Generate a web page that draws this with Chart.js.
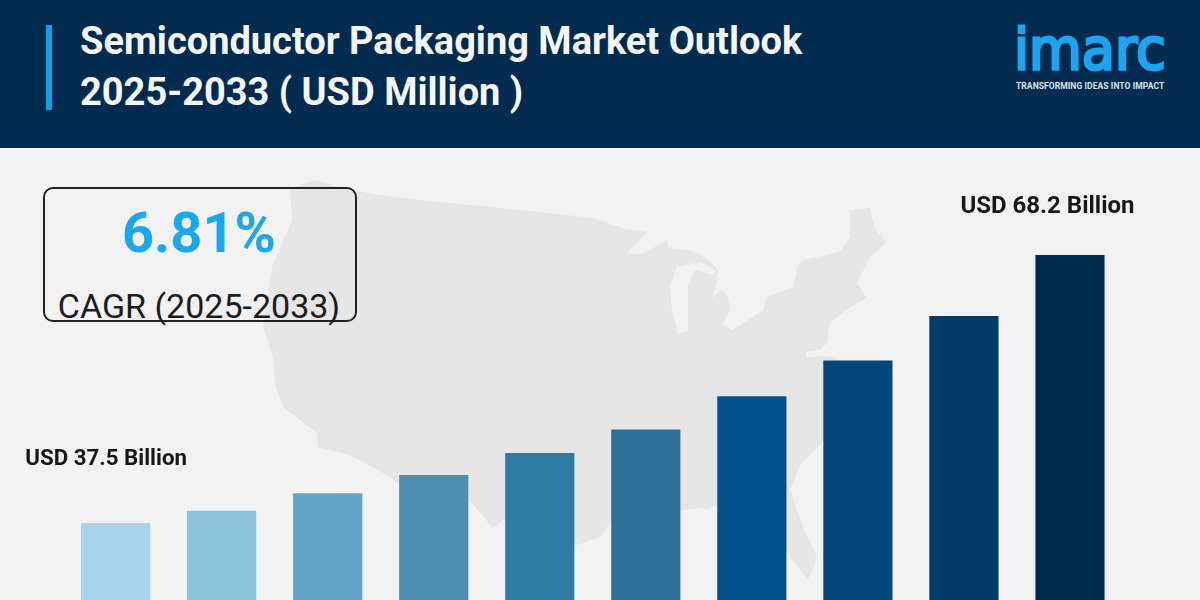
<!DOCTYPE html>
<html>
<head>
<meta charset="utf-8">
<title>Semiconductor Packaging Market Outlook</title>
<script src="https://cdn.jsdelivr.net/npm/chart.js@4/dist/chart.umd.min.js"></script>
<style>
  html, body { margin: 0; padding: 0; }
  body { width: 1200px; height: 600px; position: relative; overflow: hidden; background: #f2f2f3; font-family: Roboto, sans-serif; }
  #map { position: absolute; left: 0; top: 0; }
  #chart { position: absolute; left: 0; top: 0; }
  .header { position: absolute; left: 0; top: 0; width: 1200px; height: 148px; background: #022b4f; }
  .accent { position: absolute; left: 46px; top: 25px; width: 6px; height: 85px; background: #129fea; }
  .title { position: absolute; left: 80px; top: 16px; font-size: 38px; line-height: 51px; font-weight: 700; color: #f4f7fa; white-space: nowrap; }
  .logo { position: absolute; left: 1014px; top: 9px; font-family: "DejaVu Sans", sans-serif; font-size: 57px; line-height: 80px; color: #1ea4ee; -webkit-text-stroke: 3px #1ea4ee; transform: scaleX(0.95); transform-origin: left top; }
  .tagline { position: absolute; left: 1016px; top: 81px; font-size: 8.5px; line-height: 10px; font-weight: 700; letter-spacing: 0.08px; color: #d8e4ee; white-space: nowrap; }
  .cagr-box { position: absolute; left: 43px; top: 187px; width: 310px; height: 131px; border: 2px solid #222; border-radius: 10px; }
  .cagr-value { position: absolute; left: 44px; width: 310px; top: 203px; text-align: center; font-size: 56px; line-height: 60px; font-weight: 700; color: #1aa7ee; }
  .cagr-label { position: absolute; left: 44px; width: 310px; top: 286px; text-align: center; font-size: 34px; line-height: 40px; color: #1c1c1c; }
</style>
</head>
<body>
<!-- background map -->
<svg id="map" width="1200" height="600">
  <path fill="#e6e6e6" d="M315 180 L350 190 L400 198 L500 208 L593 218 L625 229 L647 232 L627 253 L640 255 L667 240 L668 248 L690 250 L707 258 L718 270 L717 283 L712 298 L722 290 L728 297 L730 310 L722 325 L733 330 L763 310 L767 297 L793 287 L797 267 L803 260 L840 252 L850 237 L850 210 L870 208 L875 230 L887 242 L870 257 L857 283 L867 298 L850 307 L830 323 L827 343 L820 350 L806 352 L806 358 L820 356 L835 357 L845 400 L825 440 L800 465 L790 490 L803 527 L817 557 L808 580 L790 557 L780 530 L760 505 L717 505 L708 510 L700 508 L683 510 L610 523 L600 537 L578 545 L507 517 L493 528 L467 497 L398 484 L390 477 L350 455 L318 447 L317 433 L283 407 L275 383 L273 357 L263 327 L272 267 L292 220 L290 188 Z"/>
  <path fill="#f2f2f3" d="M670 285 L677 267 L700 262 L716 270 L712 275 L695 270 L688 285 L688 330 L678 334 L672 310 Z"/>
</svg>

<div class="header"></div>
<div class="accent"></div>
<div class="title">Semiconductor Packaging Market Outlook<br>2025-2033 ( USD Million )</div>
<div class="logo">imarc</div>
<div class="tagline">TRANSFORMING IDEAS INTO IMPACT</div>

<div class="cagr-box"></div>
<div class="cagr-value">6.81%</div>
<div class="cagr-label">CAGR (2025-2033)</div>

<canvas id="chart" width="1200" height="600"></canvas>

<script>
// Market size in USD billion
const categories = ["2024", "2025", "2026", "2027", "2028", "2029", "2030", "2031", "2032", "2033"];
const marketValues = [37.5, 38.9, 40.9, 43.0, 45.5, 48.2, 52.0, 56.1, 61.2, 68.2];
const barColors = ["#a9d5e8", "#8bc1d9", "#62a4c3", "#4e8fb1", "#2e7ca5", "#2c6f99", "#03508a", "#03477b", "#023a66", "#022b4e"];
const firstLabel = "USD 37.5 Billion";
const lastLabel = "USD 68.2 Billion";

// Only the first and last bars carry a label, set up and to the left of the bar
const valueLabels = {
  id: "valueLabels",
  afterDatasetsDraw(chart) {
    const bars = chart.getDatasetMeta(0).data;
    const last = bars[bars.length - 1];
    const ctx = chart.ctx;
    ctx.save();
    ctx.fillStyle = "#171717";
    ctx.textAlign = "center";
    ctx.textBaseline = "middle";
    ctx.font = "700 22.3px Roboto";
    ctx.fillText(firstLabel, bars[0].x - 9.5, bars[0].y - 64);
    ctx.font = "700 24px Roboto";
    ctx.fillText(lastLabel, last.x - 22.5, last.y - 48);
    ctx.restore();
  },
};

const ctx = document.getElementById("chart").getContext("2d");

new Chart(ctx, {
  type: "bar",
  data: {
    labels: categories,
    datasets: [
      {
        label: "Semiconductor Packaging Market",
        data: marketValues,
        backgroundColor: barColors,
        borderWidth: 0,
        barThickness: 68.5,
      },
    ],
  },
  options: {
    responsive: false,
    animation: false,
    layout: { padding: { left: 62.6, right: 77, top: 148, bottom: 0 } },
    scales: {
      x: { display: false },
      // the picture is cropped at the bottom, so the axis does not start at zero
      y: { display: false, min: 28.7, max: 80.5 },
    },
    plugins: {
      legend: { display: false },
      tooltip: { enabled: false },
    },
  },
  plugins: [valueLabels],
});
</script>
</body>
</html>
